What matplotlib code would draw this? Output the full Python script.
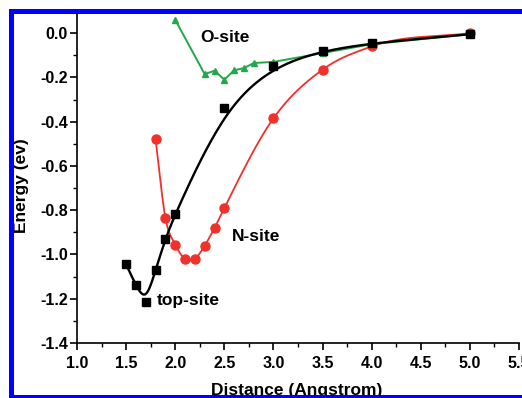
import numpy as np
import matplotlib
matplotlib.use('Agg')
import matplotlib.pyplot as plt
from matplotlib.patches import Rectangle

plt.rcParams['font.family'] = ['Liberation Sans', 'DejaVu Sans']
plt.rcParams['font.weight'] = 'bold'
plt.rcParams['axes.unicode_minus'] = False

# top-site (black squares)
top_x = [1.5, 1.6, 1.7, 1.8, 1.9, 2.0, 2.5, 3.0, 3.5, 4.0, 5.0]
top_y = [-1.045, -1.14, -1.215, -1.07, -0.93, -0.815, -0.34, -0.15, -0.08, -0.045, -0.005]
# N-site (red circles)
n_x = [1.8, 1.9, 2.0, 2.1, 2.2, 2.3, 2.4, 2.5, 3.0, 3.5, 4.0, 5.0]
n_y = [-0.48, -0.835, -0.955, -1.02, -1.02, -0.96, -0.88, -0.79, -0.385, -0.165, -0.06, 0.0]
# O-site (green triangles)
o_x = [2.0, 2.3, 2.4, 2.5, 2.6, 2.7, 2.8, 3.0, 3.5, 4.0, 5.0]
o_y = [0.06, -0.185, -0.17, -0.21, -0.168, -0.158, -0.135, -0.13, -0.09, -0.05, -0.005]


def bspline(x, y, n=30):
    # uniform cubic B-spline, points used as control points (like Origin's B-spline)
    P = np.column_stack([x, y])
    P = np.vstack([P[0], P[0], P, P[-1], P[-1]])
    t = np.linspace(0, 1, n)[:, None]
    b0 = (1 - t)**3 / 6
    b1 = (3*t**3 - 6*t**2 + 4) / 6
    b2 = (-3*t**3 + 3*t**2 + 3*t + 1) / 6
    b3 = t**3 / 6
    c = np.vstack([b0*P[i] + b1*P[i+1] + b2*P[i+2] + b3*P[i+3] for i in range(len(P) - 3)])
    return c[:, 0], c[:, 1]


def hermite(x, y, n=30):
    # smooth curve through the points
    x = np.asarray(x, float); y = np.asarray(y, float)
    h = np.diff(x); d = np.diff(y) / h
    m = np.empty_like(y)
    m[0], m[-1] = d[0], d[-1]
    m[1:-1] = (d[1:]*h[:-1] + d[:-1]*h[1:]) / (h[:-1] + h[1:])
    xs, ys = [], []
    for i in range(len(h)):
        t = np.linspace(0, 1, n)
        h00 = 2*t**3 - 3*t**2 + 1; h10 = t**3 - 2*t**2 + t
        h01 = -2*t**3 + 3*t**2; h11 = t**3 - t**2
        xs.append(x[i] + t*h[i])
        ys.append(h00*y[i] + h10*h[i]*m[i] + h01*y[i+1] + h11*h[i]*m[i+1])
    return np.concatenate(xs), np.concatenate(ys)


fig = plt.figure(figsize=(5.22, 3.98), dpi=100)
ax = fig.add_axes([77/522, 55/398, 442/522, 332/398])

red = '#f0302a'
green = '#22a84a'

ax.plot(*hermite(n_x, n_y), color=red, lw=1.3, zorder=2)
ax.plot(n_x, n_y, 'o', color=red, ms=6.5, zorder=2)
ax.plot(o_x, o_y, '-^', color=green, lw=1.4, ms=5, zorder=3)
ax.plot(*bspline(top_x, top_y), color='black', lw=1.7, zorder=4)
ax.plot(top_x, top_y, 's', color='black', ms=5.5, zorder=4)

ax.text(2.25, -0.02, 'O-site', fontsize=12.5, fontweight='bold', va='center')
ax.text(2.58, -0.92, 'N-site', fontsize=12.5, fontweight='bold', va='center')
ax.text(1.815, -1.21, 'top-site', fontsize=12.5, fontweight='bold', va='center')

ax.set_xlim(1.0, 5.5)
ax.set_ylim(-1.4, 0.1)
ax.set_xticks(np.arange(1.0, 5.51, 0.5))
ax.set_xticks(np.arange(1.0, 5.51, 0.25), minor=True)
ax.set_yticks(np.arange(-1.4, 0.01, 0.2))
ax.set_yticks(np.arange(-1.4, 0.11, 0.1), minor=True)
ax.set_xticklabels(['%.1f' % v for v in np.arange(1.0, 5.51, 0.5)])
ax.set_yticklabels(['%.1f' % v if abs(v) > 1e-9 else '0.0' for v in np.arange(-1.4, 0.01, 0.2)])
ax.tick_params(which='major', direction='out', length=5, width=1.2, labelsize=11.5)
ax.tick_params(which='minor', direction='out', length=3, width=1.0)
ax.tick_params(axis='x', pad=4.5)
ax.tick_params(axis='y', pad=1.5)
for s in ['top', 'right']:
    ax.spines[s].set_visible(False)
for s in ['left', 'bottom']:
    ax.spines[s].set_linewidth(1.2)

fig.text(22/522, 1 - 186/398, 'Energy (ev)', rotation=90, fontsize=12.5,
         fontweight='bold', ha='center', va='center')
fig.text(297/522, 1 - 383/398, 'Distance (Angstrom)', fontsize=12.5,
         fontweight='bold', ha='center', va='top')

# cropped scan frame: white outside, blue border on top/left/bottom
W, H = 522.0, 398.0
def box(x0, y0, x1, y1, c):
    fig.add_artist(Rectangle((x0/W, 1 - y1/H), (x1 - x0)/W, (y1 - y0)/H,
                             transform=fig.transFigure, color=c, lw=0, zorder=20))
box(0, 0, 9, H, 'white')
box(0, 0, W, 9, 'white')
box(9, 9, 14, H, '#0000ff')
box(9, 9, W, 14, '#0000ff')
box(9, 395, W, H, '#0000ff')

fig.savefig('out.png', dpi=100)
